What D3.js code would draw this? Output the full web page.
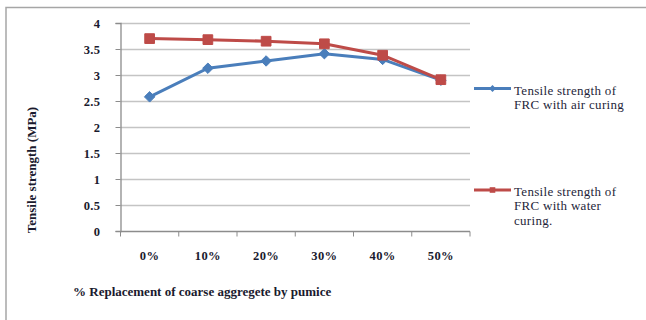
<!DOCTYPE html>
<html>
<head>
<meta charset="utf-8">
<script src="https://cdn.jsdelivr.net/npm/d3@7/dist/d3.min.js"></script>
<style>
  html, body { margin: 0; padding: 0; background: #fff; }
  svg { display: block; }
  svg text { font-family: "Liberation Serif", "DejaVu Serif", "Times New Roman", serif !important; }
</style>
</head>
<body>
<svg id="chart" width="646" height="320"></svg>
<script>
// Replacement levels of coarse aggregate by pumice
const categories = ["0%", "10%", "20%", "30%", "40%", "50%"];
// Tensile strength (MPa)
const airCuring = [2.58, 3.13, 3.27, 3.41, 3.30, 2.90];
const waterCuring = [3.70, 3.68, 3.65, 3.60, 3.38, 2.91];
const yTicks = [0, 0.5, 1, 1.5, 2, 2.5, 3, 3.5, 4];
const seriesNames = [
  ["Tensile strength of", "FRC with air curing"],
  ["Tensile strength of", "FRC with water", "curing."]
];

const FONT = "'Liberation Serif', 'DejaVu Serif', serif";
const svg = d3.select("#chart").attr("font-family", FONT);

// outer frame
svg.append("path")
  .attr("d", "M6,320 V7.5 H646")
  .attr("fill", "none")
  .attr("stroke", "#a6a6a6")
  .attr("stroke-width", 1.5);

const plot = { left: 120.5, right: 470, top: 23, bottom: 231 };

const x = d3.scaleBand().domain(categories).range([plot.left, plot.right]);
const y = d3.scaleLinear().domain([0, 4]).range([plot.bottom, plot.top]);

// horizontal gridlines
svg.append("g")
  .selectAll("line")
  .data(yTicks.filter(t => t > 0))
  .join("line")
  .attr("x1", plot.left).attr("x2", plot.right)
  .attr("y1", d => Math.round(y(d)) + 0.5).attr("y2", d => Math.round(y(d)) + 0.5)
  .attr("stroke", "#c4c4c4")
  .attr("stroke-width", 1.3);

// y axis
const yAxis = svg.append("g")
  .attr("transform", `translate(${plot.left},0)`)
  .call(d3.axisLeft(y).tickValues(yTicks).tickSize(5).tickPadding(15).tickFormat(d3.format("")))
  .attr("font-family", FONT);
yAxis.select(".domain").attr("stroke", "#8c8c8c").attr("stroke-width", 1.3);
yAxis.selectAll(".tick line").attr("stroke", "#8c8c8c");
yAxis.selectAll(".tick text")
  .attr("font-size", 12.5).attr("font-weight", "bold").attr("fill", "#1a1a2e")
  .attr("letter-spacing", 0.4);

// x axis with tick marks on category boundaries
const xAxisG = svg.append("g").attr("transform", `translate(0,${plot.bottom + 0.5})`);
xAxisG.append("line")
  .attr("x1", plot.left).attr("x2", plot.right)
  .attr("stroke", "#8c8c8c").attr("stroke-width", 1.3);
const bounds = categories.map(c => x(c)).concat([x.range()[1]]);
xAxisG.selectAll("line.tk")
  .data(bounds)
  .join("line")
  .attr("class", "tk")
  .attr("x1", d => d).attr("x2", d => d)
  .attr("y1", 0).attr("y2", 5)
  .attr("stroke", "#8c8c8c");
xAxisG.selectAll("text")
  .data(categories)
  .join("text")
  .attr("x", d => x(d) + x.bandwidth() / 2)
  .attr("y", 28)
  .attr("text-anchor", "middle")
  .attr("font-size", 12.5).attr("font-weight", "bold").attr("fill", "#1a1a2e")
  .attr("letter-spacing", 0.4)
  .text(d => d);

// axis titles
svg.append("text")
  .attr("transform", "translate(36,170) rotate(-90)")
  .attr("text-anchor", "middle")
  .attr("font-size", 13).attr("font-weight", "bold").attr("fill", "#1a1a2e")
  .text("Tensile strength (MPa)");
svg.append("text")
  .attr("x", 73).attr("y", 296)
  .attr("font-size", 13).attr("font-weight", "bold").attr("fill", "#1a1a2e")
  .text("% Replacement of coarse aggregete by pumice");

const cx = d => x(d) + x.bandwidth() / 2;
const line = d3.line().x(d => cx(d.c)).y(d => y(d.v));

const series = [
  { values: airCuring, color: "#4a7ebb", symbol: d3.symbolDiamond2, size: 70 },
  { values: waterCuring, color: "#be4b48", symbol: d3.symbolSquare2, size: 120 }
];

series.forEach(s => {
  const pts = categories.map((c, i) => ({ c, v: s.values[i] }));
  svg.append("path")
    .datum(pts)
    .attr("d", line)
    .attr("fill", "none")
    .attr("stroke", s.color)
    .attr("stroke-width", 3);
  svg.append("g")
    .selectAll("path")
    .data(pts)
    .join("path")
    .attr("transform", d => `translate(${cx(d.c)},${y(d.v)})`)
    .attr("d", d3.symbol().type(s.symbol).size(s.size))
    .attr("fill", s.color)
    .attr("stroke", s.color)
    .attr("stroke-width", 1);
});

// legend
const legendY = [88.5, 190];
series.forEach((s, i) => {
  const g = svg.append("g").attr("transform", `translate(474,${legendY[i]})`);
  g.append("line")
    .attr("x1", 0).attr("x2", 37)
    .attr("stroke", s.color).attr("stroke-width", 3);
  g.append("path")
    .attr("transform", "translate(18.5,0)")
    .attr("d", d3.symbol().type(s.symbol).size(i === 0 ? 30 : 40))
    .attr("fill", s.color);
  const lines = seriesNames[i];
  const lh = 14.3;
  g.append("text")
    .attr("font-size", 13).attr("fill", "#1f1f3a")
    .attr("letter-spacing", 0.3)
    .selectAll("tspan")
    .data(lines)
    .join("tspan")
    .attr("x", 40)
    .attr("y", (d, k) => 1.5 + k * lh)
    .attr("dy", "0.35em")
    .text(d => d);
});
</script>
</body>
</html>
